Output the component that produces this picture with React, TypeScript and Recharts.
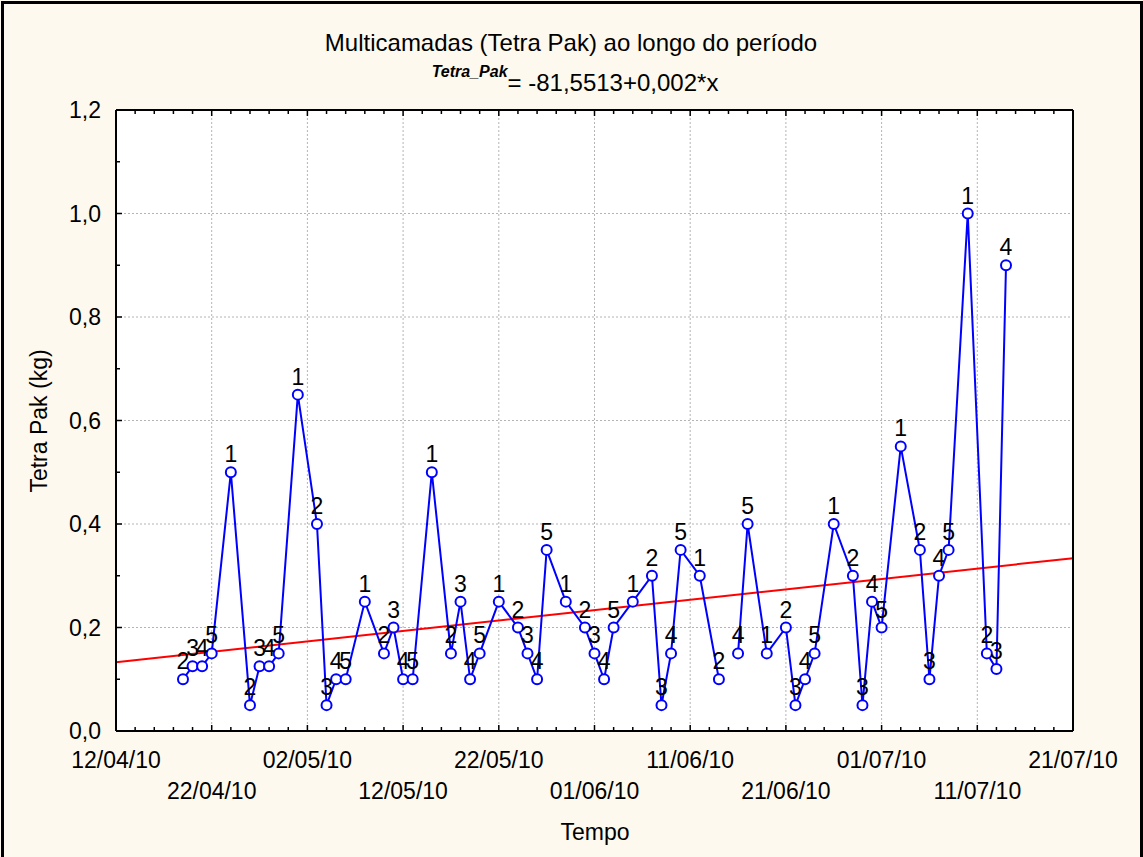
import React from 'react';
import { ComposedChart, Line, XAxis, YAxis, ReferenceLine, LabelList, CartesianGrid } from 'recharts';

// sampling dates (dd/mm/yy)
const dates = [
  '19/04/10', '20/04/10', '21/04/10', '22/04/10', '24/04/10', '26/04/10', '27/04/10', '28/04/10', '29/04/10',
  '01/05/10', '03/05/10', '04/05/10', '05/05/10', '06/05/10', '08/05/10', '10/05/10', '11/05/10', '12/05/10',
  '13/05/10', '15/05/10', '17/05/10', '18/05/10', '19/05/10', '20/05/10', '22/05/10', '24/05/10', '25/05/10',
  '26/05/10', '27/05/10', '29/05/10', '31/05/10', '01/06/10', '02/06/10', '03/06/10', '05/06/10', '07/06/10',
  '08/06/10', '09/06/10', '10/06/10', '12/06/10', '14/06/10', '15/06/10', '16/06/10', '17/06/10', '19/06/10',
  '21/06/10', '22/06/10', '23/06/10', '24/06/10', '26/06/10', '28/06/10', '29/06/10', '30/06/10', '01/07/10',
  '03/07/10', '05/07/10', '06/07/10', '07/07/10', '08/07/10', '10/07/10', '12/07/10', '13/07/10', '14/07/10',
];

// point markers (1..5)
const dayCodes = [
  2, 3, 4, 5, 1, 2, 3, 4, 5,
  1, 2, 3, 4, 5, 1, 2, 3, 4,
  5, 1, 2, 3, 4, 5, 1, 2, 3,
  4, 5, 1, 2, 3, 4, 5, 1, 2,
  3, 4, 5, 1, 2, 3, 4, 5, 1,
  2, 3, 4, 5, 1, 2, 3, 4, 5,
  1, 2, 3, 4, 5, 1, 2, 3, 4,
];

// Tetra Pak (kg)
const tetraPak: (number | null)[] = [
  0.10, 0.125, 0.125, 0.15, 0.50, 0.05, 0.125, 0.125, 0.15,
  0.65, 0.40, 0.05, 0.10, 0.10, 0.25, 0.15, 0.20, 0.10,
  0.10, 0.50, 0.15, 0.25, 0.10, 0.15, 0.25, 0.20, 0.15,
  0.10, 0.35, 0.25, 0.20, 0.15, 0.10, 0.20, 0.25, 0.30,
  0.05, 0.15, 0.35, 0.30, 0.10, null, 0.15, 0.40, 0.15,
  0.20, 0.05, 0.10, 0.15, 0.40, 0.30, 0.05, 0.25, 0.20,
  0.55, 0.35, 0.10, 0.30, 0.35, 1.00, 0.15, 0.12, 0.90,
];

const xTickLabels = [
  '12/04/10', '22/04/10', '02/05/10', '12/05/10', '22/05/10', '01/06/10',
  '11/06/10', '21/06/10', '01/07/10', '11/07/10', '21/07/10',
];
const yTicks = [0, 0.2, 0.4, 0.6, 0.8, 1.0, 1.2];

// fitted line read at the two ends of the time axis
const trendStart = 0.133;
const trendEnd = 0.334;

const FONT = '"Liberation Sans", Arial, sans-serif';

// chart frame
const W = 1143;
const H = 857;
const M = { top: 100, right: 60, bottom: 26, left: 56 };
const X_AXIS_H = 100;
const TOP_AXIS_H = 10;
const Y_AXIS_W = 60;
const RIGHT_AXIS_W = 10;
const plotLeft = M.left + Y_AXIS_W;
const plotTop = M.top + TOP_AXIS_H;
const plotWidth = W - M.left - M.right - Y_AXIS_W - RIGHT_AXIS_W;
const plotHeight = H - M.top - M.bottom - X_AXIS_H - TOP_AXIS_H;

const toDay = (s: string) => {
  const [dd, mm, yy] = s.split('/').map(Number);
  return Date.UTC(2000 + yy, mm - 1, dd) / 86400000;
};

const majorDays = xTickLabels.map(toDay);
const xMin = majorDays[0];
const xMax = majorDays[majorDays.length - 1];
const yMax = yTicks[yTicks.length - 1];
const minorDays: number[] = [];
for (let d = xMin; d <= xMax; d += 2) minorDays.push(d);
const minorY: number[] = [];
for (let i = 0; i < yTicks.length; i++) {
  minorY.push(yTicks[i]);
  if (i < yTicks.length - 1) minorY.push((yTicks[i] + yTicks[i + 1]) / 2);
}

const data = dates.map((d, i) => ({ day: toDay(d), value: tetraPak[i], code: dayCodes[i] }));

const isMajorY = (v: number) => yTicks.some((t) => Math.abs(t - v) < 1e-6);

// grid only at the labelled ticks
const gridXPoints = majorDays.slice(1, -1).map((d) => plotLeft + ((d - xMin) / (xMax - xMin)) * plotWidth);
const gridYPoints = yTicks.slice(1, -1).map((v) => plotTop + (1 - v / yMax) * plotHeight);

const BottomTick = (props: any) => {
  const { x, y, payload } = props;
  const idx = majorDays.indexOf(payload.value);
  return (
    <g>
      <line x1={x} x2={x} y1={y} y2={y - (idx >= 0 ? 6 : 4)} stroke="#000" strokeWidth={1.5} />
      {idx >= 0 && (
        <text x={x} y={y + (idx % 2 === 0 ? 37 : 68)} textAnchor="middle" fontSize={23} fontFamily={FONT} fill="#000">
          {xTickLabels[idx]}
        </text>
      )}
    </g>
  );
};

const TopTick = (props: any) => {
  const { x, y, payload } = props;
  const major = majorDays.indexOf(payload.value) >= 0;
  return <line x1={x} x2={x} y1={y} y2={y + (major ? 6 : 4)} stroke="#000" strokeWidth={1.5} />;
};

const LeftTick = (props: any) => {
  const { x, y, payload } = props;
  const major = isMajorY(payload.value);
  return (
    <g>
      <line x1={x} x2={x + (major ? 6 : 4)} y1={y} y2={y} stroke="#000" strokeWidth={1.5} />
      {major && (
        <text x={x - 15} y={y + 8} textAnchor="end" fontSize={23} fontFamily={FONT} fill="#000">
          {payload.value.toFixed(1).replace('.', ',')}
        </text>
      )}
    </g>
  );
};

const RightTick = (props: any) => {
  const { x, y, payload } = props;
  const major = isMajorY(payload.value);
  return <line x1={x} x2={x - (major ? 6 : 4)} y1={y} y2={y} stroke="#000" strokeWidth={1.5} />;
};

const renderCode = (props: any) => {
  const { index, value } = props;
  const x = props.x ?? props.viewBox?.x;
  const y = props.y ?? props.viewBox?.y;
  if (tetraPak[index] == null || y == null || Number.isNaN(y)) return null;
  return (
    <text key={`c${index}`} x={x} y={y - 10} textAnchor="middle" fontSize={23} fontFamily={FONT} fill="#000">
      {value}
    </text>
  );
};

export default function App() {
  return (
    <div style={{ position: 'absolute', left: 0, top: 0, width: W, height: H, overflow: 'hidden', background: '#FEF9EE' }}>
      <div
        style={{
          position: 'absolute', left: 1, top: 1, width: 1136, height: 880,
          borderLeft: '3px solid #000', borderTop: '3px solid #000', borderRight: '3px solid #000',
        }}
      />
      <div style={{ position: 'absolute', left: 0, top: 0 }}>
        <ComposedChart width={W} height={H} data={data} margin={M}>
          <CartesianGrid
            fill="#FFFFFF"
            stroke="#B4B4B4"
            strokeWidth={1}
            strokeDasharray="2 2"
            verticalPoints={gridXPoints}
            horizontalPoints={gridYPoints}
          />
          <XAxis
            dataKey="day"
            type="number"
            domain={[xMin, xMax]}
            ticks={minorDays}
            interval={0}
            height={X_AXIS_H}
            tickSize={0}
            tickMargin={0}
            tickLine={false}
            axisLine={{ stroke: '#000', strokeWidth: 2 }}
            tick={<BottomTick />}
          />
          <XAxis
            xAxisId="top"
            orientation="top"
            dataKey="day"
            type="number"
            domain={[xMin, xMax]}
            ticks={minorDays}
            interval={0}
            height={TOP_AXIS_H}
            tickSize={0}
            tickMargin={0}
            tickLine={false}
            axisLine={{ stroke: '#000', strokeWidth: 2 }}
            tick={<TopTick />}
          />
          <YAxis
            type="number"
            domain={[0, yMax]}
            ticks={minorY}
            interval={0}
            width={Y_AXIS_W}
            tickSize={0}
            tickMargin={0}
            tickLine={false}
            axisLine={{ stroke: '#000', strokeWidth: 2 }}
            tick={<LeftTick />}
          />
          <YAxis
            yAxisId="right"
            orientation="right"
            type="number"
            domain={[0, yMax]}
            ticks={minorY}
            interval={0}
            width={RIGHT_AXIS_W}
            tickSize={0}
            tickMargin={0}
            tickLine={false}
            axisLine={{ stroke: '#000', strokeWidth: 2 }}
            tick={<RightTick />}
          />

          {/* regression line */}
          <ReferenceLine
            segment={[{ x: xMin, y: trendStart }, { x: xMax, y: trendEnd }]}
            stroke="#FF0000"
            strokeWidth={2}
          />

          <Line
            type="linear"
            dataKey="value"
            stroke="#0000FF"
            strokeWidth={2}
            connectNulls={false}
            dot={{ r: 5, stroke: '#0000FF', strokeWidth: 2, fill: '#FFFFFF' }}
            activeDot={false}
            isAnimationActive={false}
          >
            <LabelList dataKey="code" content={renderCode} />
          </Line>
        </ComposedChart>
      </div>
      <svg width={W} height={H} style={{ position: 'absolute', left: 0, top: 0, pointerEvents: 'none' }} fontFamily={FONT}>
        <text x={571} y={51} textAnchor="middle" fontSize={24} fill="#000">
          Multicamadas (Tetra Pak) ao longo do período
        </text>
        <text x={575} y={91} textAnchor="middle" fill="#000">
          <tspan fontSize={16} fontWeight="bold" fontStyle="italic" dy={-14}>Tetra_Pak</tspan>
          <tspan fontSize={24} dy={14}>= -81,5513+0,002*x</tspan>
        </text>
        <text transform="translate(47,421) rotate(-90)" textAnchor="middle" fontSize={23} fill="#000">
          Tetra Pak (kg)
        </text>
        <text x={595} y={840} textAnchor="middle" fontSize={23} fill="#000">
          Tempo
        </text>
      </svg>
    </div>
  );
}
